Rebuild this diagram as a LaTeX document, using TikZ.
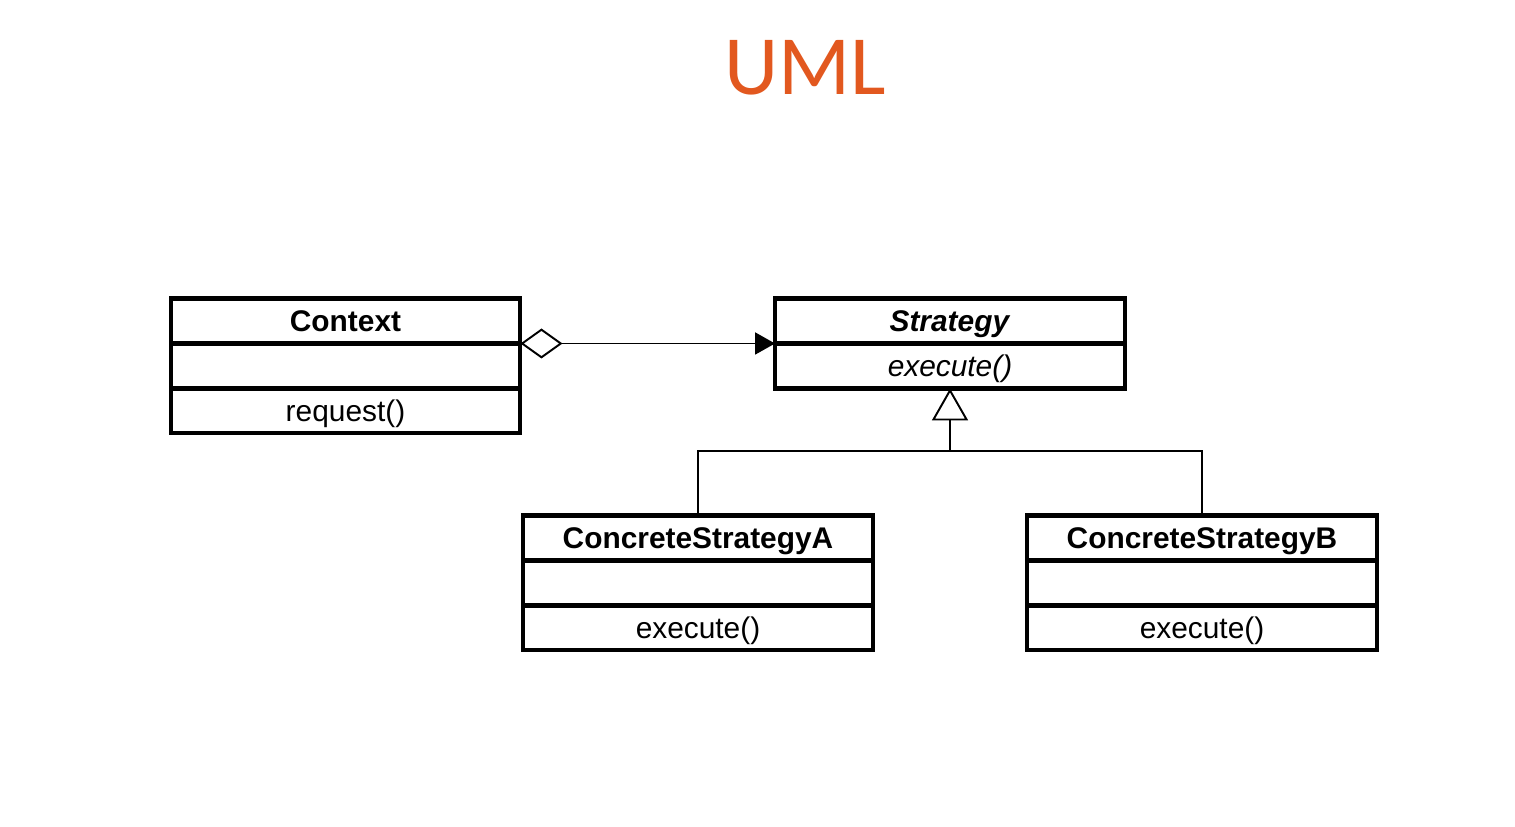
\documentclass[tikz,border=0pt]{standalone}
\usepackage{fontspec}
\setmainfont{Liberation Sans}
\newfontfamily\titlefont{Carlito}
\usetikzlibrary{positioning,arrows.meta}
\definecolor{umlorange}{HTML}{E2581F}

\begin{document}
\begin{tikzpicture}[x=0.02cm,y=-0.02cm]
	% `part' is one compartment of a class box.
	% `link' is used for the thin connectors.
	\tikzstyle{part} = [draw,line width=2.3pt,outer sep=0pt,inner sep=0pt,minimum width=7.0cm,minimum height=0.9cm,font=\fontsize{17}{20}\selectfont,text height=14.5pt,text depth=2.5pt]
	\tikzstyle{link} = [line width=1.1pt]
	\tikzstyle{heading} = [text=umlorange,font=\titlefont\fontsize{48}{58}\selectfont]
	%
	\path[use as bounding box] (0,0) rectangle (1515,827);
	\node[heading] (uml) at (805,68) {UML};
	% Context class.
	\node[part] (ctx1) at (345.5,321) {\textbf{Context}};
	\node[part,below=0pt of ctx1] (ctx2) {};
	\node[part,below=0pt of ctx2] (ctx3) {request()};
	% Strategy interface.
	\node[part] (str1) at (950,321) {\textbf{\textit{Strategy}}};
	\node[part,below=0pt of str1] (str2) {\textit{execute()}};
	% Concrete strategies.
	\node[part] (csa1) at (698,538) {\textbf{ConcreteStrategyA}};
	\node[part,below=0pt of csa1] (csa2) {};
	\node[part,below=0pt of csa2] (csa3) {execute()};
	\node[part] (csb1) at (1202,538) {\textbf{ConcreteStrategyB}};
	\node[part,below=0pt of csb1] (csb2) {};
	\node[part,below=0pt of csb2] (csb3) {execute()};
	% Aggregation from Context to Strategy.
	\draw[link,{Diamond[open,length=0.84cm,width=0.6cm]}-{Triangle[length=0.4cm,width=0.44cm]}] (ctx1.south east) -- (str1.south west);
	% Generalization.
	\coordinate (fork) at (950,451);
	\draw[link,-{Triangle[open,length=0.64cm,width=0.72cm]}] (fork) -- (str2.south);
	\draw[link] (csa1.north) |- (fork) -| (csb1.north);
\end{tikzpicture}
\end{document}
